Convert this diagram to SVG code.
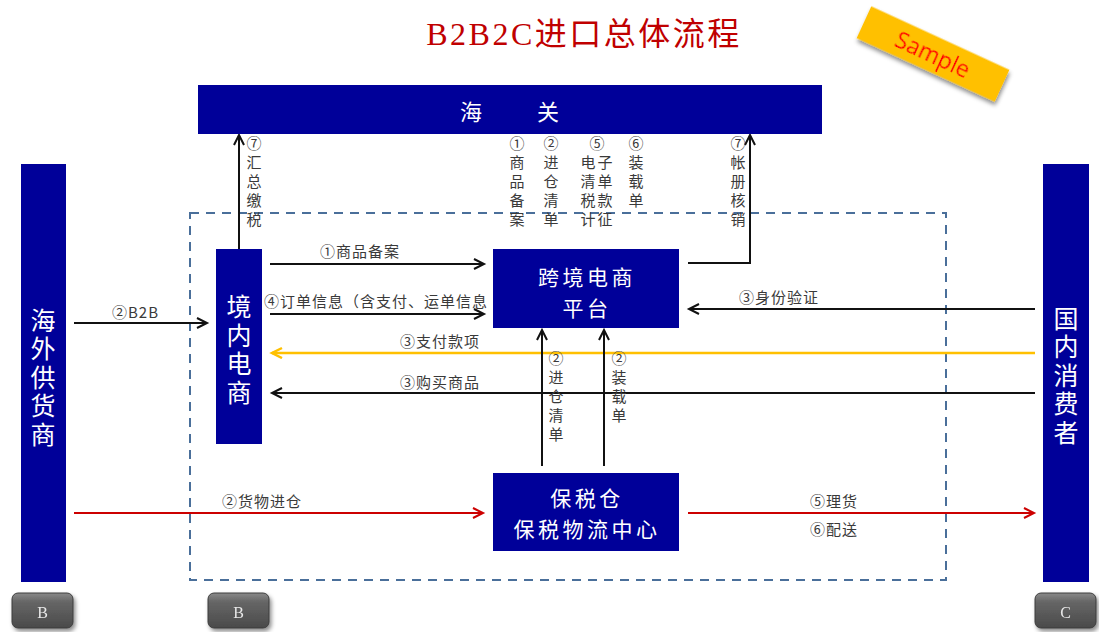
<svg xmlns="http://www.w3.org/2000/svg" width="1099" height="632" viewBox="0 0 1099 632">
<defs>
<style>
.node{fill:#000099}
.nt{fill:#ffffff;font-family:"Noto Sans CJK SC","Liberation Sans",sans-serif;text-anchor:middle;dominant-baseline:central}
.vt{fill:#ffffff;font-family:"Noto Sans CJK SC","Liberation Sans",sans-serif;font-size:25px;writing-mode:vertical-rl;text-anchor:middle;letter-spacing:3.5px}
.lbl{fill:#3a3a3a;font-family:"Noto Sans CJK SC","Liberation Sans",sans-serif;font-size:15px;letter-spacing:1px;dominant-baseline:central}
.vl{fill:#3a3a3a;font-family:"Noto Sans CJK SC","Liberation Sans",sans-serif;font-size:15px;writing-mode:vertical-rl;letter-spacing:4px}
.blk{stroke:#111;stroke-width:2;fill:none}
.red{stroke:#CC0000;stroke-width:2;fill:none}
.yel{stroke:#FFC000;stroke-width:2.5;fill:none}
.btn{fill:url(#btnG);stroke:#3d3d3d;stroke-width:1}
.bt{fill:#e8e8e8;font-family:"Liberation Serif",serif;font-size:16px;text-anchor:middle;dominant-baseline:central}
</style>
<marker id="aB" markerUnits="userSpaceOnUse" markerWidth="14" markerHeight="14" refX="11" refY="6" orient="auto"><path d="M1,1 L11,6 L1,11" fill="none" stroke="#111" stroke-width="2"/></marker>
<marker id="aR" markerUnits="userSpaceOnUse" markerWidth="14" markerHeight="14" refX="11" refY="6" orient="auto"><path d="M1,1 L11,6 L1,11" fill="none" stroke="#CC0000" stroke-width="2"/></marker>
<marker id="aY" markerUnits="userSpaceOnUse" markerWidth="14" markerHeight="14" refX="11" refY="6" orient="auto"><path d="M1,1 L11,6 L1,11" fill="none" stroke="#FFC000" stroke-width="2.5"/></marker>
<linearGradient id="btnG" x1="0" y1="0" x2="0" y2="1"><stop offset="0" stop-color="#8a8a8a"/><stop offset="0.25" stop-color="#666"/><stop offset="1" stop-color="#4a4a4a"/></linearGradient>
<filter id="sh" x="-20%" y="-30%" width="150%" height="180%"><feDropShadow dx="2" dy="3" stdDeviation="2" flood-color="#000" flood-opacity="0.45"/></filter>
</defs>
<rect width="1099" height="632" fill="#ffffff"/>

<text x="584" y="34" fill="#C00000" font-family="Liberation Serif,'Noto Sans CJK SC',serif" font-size="32" letter-spacing="2.5" text-anchor="middle" dominant-baseline="central">B2B2C进口总体流程</text>

<g id="sample" transform="translate(933,54) rotate(24.7)" filter="url(#sh)">
<rect x="-76" y="-17.5" width="152" height="35" fill="#FFC000"/>
<text x="0" y="0" fill="#FF0000" font-family="'Open Sans','Liberation Sans',sans-serif" font-size="23" text-anchor="middle" dominant-baseline="central">Sample</text>
</g>

<rect id="boundary" x="190" y="213" width="756" height="367" fill="none" stroke="#4A6F9A" stroke-width="2" stroke-dasharray="9,7"/>

<g id="connectors">
<line class="blk" x1="239" y1="249" x2="239" y2="135" marker-end="url(#aB)"/>
<polyline class="blk" points="688,263 750,263 750,135" marker-end="url(#aB)"/>
<line class="blk" x1="270" y1="264" x2="484" y2="264" marker-end="url(#aB)"/>
<line class="blk" x1="270" y1="314" x2="484" y2="314" marker-end="url(#aB)"/>
<line class="blk" x1="1035" y1="309" x2="689" y2="309" marker-end="url(#aB)"/>
<line class="yel" x1="1035" y1="353" x2="272" y2="353" marker-end="url(#aY)"/>
<line class="blk" x1="1035" y1="393" x2="272" y2="393" marker-end="url(#aB)"/>
<line class="blk" x1="542" y1="466" x2="542" y2="330" marker-end="url(#aB)"/>
<line class="blk" x1="604" y1="466" x2="604" y2="330" marker-end="url(#aB)"/>
<line class="blk" x1="74" y1="323" x2="207" y2="323" marker-end="url(#aB)"/>
<line class="red" x1="74" y1="513" x2="483" y2="513" marker-end="url(#aR)"/>
<line class="red" x1="688" y1="513" x2="1034" y2="513" marker-end="url(#aR)"/>

<text class="lbl" x="320" y="250">①商品备案</text>
<text class="lbl" x="264" y="300" letter-spacing="1.2">④订单信息（含支付、运单信息</text>
<text class="lbl" x="739" y="296">③身份验证</text>
<text class="lbl" x="400" y="340">③支付款项</text>
<text class="lbl" x="400" y="381">③购买商品</text>
<text class="lbl" x="112" y="311" font-family="'Liberation Serif','Noto Sans CJK SC',serif">②B2B</text>
<text class="lbl" x="222" y="500">②货物进仓</text>
<text class="lbl" x="810" y="500">⑤理货</text>
<text class="lbl" x="810" y="528">⑥配送</text>

<text class="vl" x="254" y="136">⑦汇总缴税</text>
<text class="vl" x="517" y="136">①商品备案</text>
<text class="vl" x="551" y="136">②进仓清单</text>
<text class="vl" x="597" y="136">⑤</text>
<text class="vl" x="588" y="155">电清税计</text>
<text class="vl" x="605" y="155">子单款征</text>
<text class="vl" x="636" y="136">⑥装载单</text>
<text class="vl" x="738" y="136">⑦帐册核销</text>
<text class="vl" x="556" y="351">②进仓清单</text>
<text class="vl" x="619" y="351">②装载单</text>
</g>

<g id="customs">
<rect class="node" x="198" y="85" width="624" height="49"/>
<text class="nt" x="471" y="110" font-size="22">海</text>
<text class="nt" x="548" y="110" font-size="22">关</text>
</g>

<g id="supplier">
<rect class="node" x="21" y="164" width="45" height="418"/>
<text class="vt" x="43" y="379">海外供货商</text>
</g>

<g id="domestic-ecom">
<rect class="node" x="216" y="249" width="46" height="195"/>
<text class="vt" x="239" y="351">境内电商</text>
</g>

<g id="platform">
<rect class="node" x="493" y="249" width="186" height="79"/>
<text class="nt" font-size="21" letter-spacing="3.5"><tspan x="587" y="276">跨境电商</tspan><tspan x="587" y="307">平台</tspan></text>
</g>

<g id="bonded">
<rect class="node" x="493" y="473" width="186" height="78"/>
<text class="nt" font-size="21" letter-spacing="3.5"><tspan x="587" y="496.5">保税仓</tspan><tspan x="587" y="527.5">保税物流中心</tspan></text>
</g>

<g id="consumer">
<rect class="node" x="1043" y="164" width="46" height="418"/>
<text class="vt" x="1066" y="377">国内消费者</text>
</g>

<g id="btn-b1" filter="url(#sh)"><rect class="btn" x="12" y="593" width="61" height="35" rx="6"/><text class="bt" x="42.5" y="612">B</text></g>
<g id="btn-b2" filter="url(#sh)"><rect class="btn" x="208" y="593" width="61" height="35" rx="6"/><text class="bt" x="238.5" y="612">B</text></g>
<g id="btn-c" filter="url(#sh)"><rect class="btn" x="1035" y="593" width="61" height="35" rx="6"/><text class="bt" x="1065.5" y="612">C</text></g>
</svg>
